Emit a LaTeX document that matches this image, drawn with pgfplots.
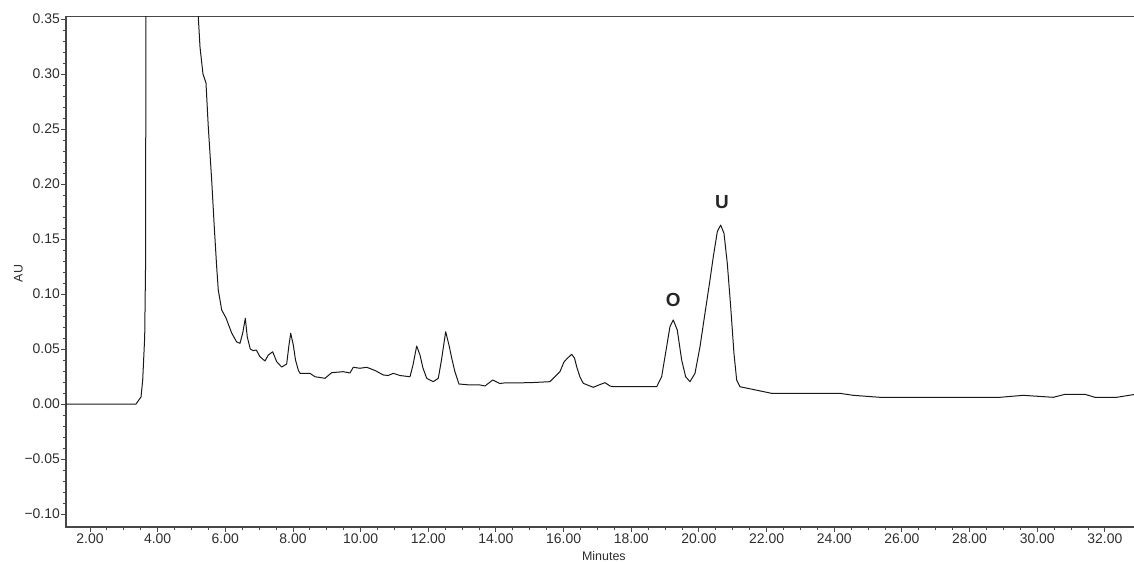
\documentclass[border=0pt]{standalone}
\usepackage{fontspec}
\setmainfont{Liberation Sans}
\usepackage{pgfplots}
\pgfplotsset{compat=1.18}
\begin{document}
\begin{tikzpicture}
\begin{axis}[
  scale only axis,
  width=1069.3bp, height=510.3bp,
  xmin=1.2906, xmax=32.9,
  ymin=-0.1118, ymax=0.3521,
  axis line style={draw=black!72, line width=1.1bp},
  tick pos=left, tick align=outside,
  major tick length=5bp, minor tick length=3bp,
  every tick/.style={draw=black!72, line width=0.9bp},
  xtick={2,4,...,32},
  xticklabels={2.00,4.00,6.00,8.00,10.00,12.00,14.00,16.00,18.00,20.00,22.00,24.00,26.00,28.00,30.00,32.00},
  minor x tick num=3,
  ytick={-0.10,-0.05,0,0.05,0.10,0.15,0.20,0.25,0.30,0.35},
  yticklabels={−0.10,−0.05,0.00,0.05,0.10,0.15,0.20,0.25,0.30,0.35},
  minor y tick num=4,
  tick label style={font=\fontsize{14}{16}\selectfont, text=black!82},
  yticklabel style={inner sep=1bp},
  xticklabel style={inner sep=1.5bp},
  xlabel={Minutes},
  ylabel={AU},
  label style={font=\fontsize{12.5}{14}\selectfont, text=black!82},
  xlabel style={at={(axis description cs:0.503,0)}, anchor=base, inner sep=0pt, yshift=-33.5bp},
  ylabel style={at={(axis description cs:-0.0445,0.497)}, anchor=center, rotate=0},
]
\coordinate (sw) at (rel axis cs:0,0);
\addplot[draw=black!90, line width=1bp, line join=round] coordinates {
(1.29,0) (3.360,0) (3.508,0.0064) (3.558,0.0218) (3.617,0.0609) (3.646,0.1355)
(3.655,0.6) (4.4,1.5) (5.15,0.50) (5.201,0.352)
(5.252,0.3245) (5.34,0.300) (5.429,0.2918) (5.497,0.2518) (5.597,0.2036) (5.674,0.1609)
(5.745,0.1245) (5.792,0.1036) (5.893,0.0855) (6.020,0.0782) (6.189,0.0645)
(6.336,0.0564) (6.434,0.0552) (6.514,0.0645) (6.591,0.0779) (6.650,0.0609)
(6.738,0.0500) (6.827,0.0485) (6.916,0.0491) (7.025,0.0430) (7.173,0.0391)
(7.270,0.0445) (7.400,0.0475) (7.519,0.0385) (7.667,0.0336) (7.814,0.0364)
(7.882,0.0536) (7.933,0.0643) (8.010,0.0536) (8.075,0.0400) (8.157,0.0309)
(8.208,0.0279) (8.503,0.0279) (8.651,0.0248) (8.947,0.0234) (9.145,0.0285)
(9.488,0.0294) (9.685,0.0282) (9.783,0.0334) (9.981,0.0325) (10.179,0.0334)
(10.424,0.0305) (10.670,0.0264) (10.809,0.0259) (10.966,0.0279) (11.163,0.0259)
(11.459,0.0248) (11.548,0.0355) (11.657,0.0527) (11.755,0.0445) (11.843,0.0327)
(11.953,0.0234) (12.148,0.0203) (12.296,0.0234) (12.390,0.0400) (12.514,0.0657)
(12.612,0.0536) (12.692,0.0418) (12.789,0.0291) (12.907,0.0182) (13.232,0.0173)
(13.528,0.0173) (13.676,0.0164) (13.904,0.0218) (14.120,0.0186) (14.217,0.0191)
(15.006,0.0194) (15.597,0.0203) (15.893,0.0294) (16.011,0.0382) (16.109,0.0415)
(16.239,0.0452) (16.322,0.0418) (16.387,0.0339) (16.484,0.0245) (16.582,0.0188)
(16.878,0.0152) (17.076,0.0177) (17.223,0.0194) (17.371,0.0164) (17.469,0.0157)
(18.554,0.0157) (18.752,0.0157) (18.898,0.0248) (19.046,0.0521) (19.144,0.0703)
(19.242,0.0764) (19.360,0.0673) (19.490,0.0400) (19.608,0.0248) (19.736,0.0203)
(19.884,0.0279) (20.032,0.0521) (20.179,0.0825) (20.327,0.1127) (20.425,0.1339)
(20.543,0.1566) (20.643,0.1627) (20.741,0.1552) (20.839,0.1279) (20.939,0.0885)
(21.036,0.0461) (21.116,0.0218) (21.214,0.0157) (21.607,0.0132) (22.151,0.0097)
(24.170,0.0097) (24.563,0.0079) (25.352,0.0061) (28.899,0.0061) (29.588,0.0079)
(30.475,0.0061) (30.821,0.0088) (31.412,0.0088) (31.708,0.0061) (32.349,0.0061)
(32.90,0.0088)
};
\node[font=\bfseries\fontsize{19}{21}\selectfont, text=black!85] at (axis cs:19.24,0.0945) {O};
\node[font=\bfseries\fontsize{19}{21}\selectfont, text=black!85] at (axis cs:20.68,0.1836) {U};
\end{axis}
\pgfresetboundingbox
\path[use as bounding box] (sw) ++(-66bp,-35bp) rectangle ++(1134bp,562bp);
\end{tikzpicture}
\end{document}
